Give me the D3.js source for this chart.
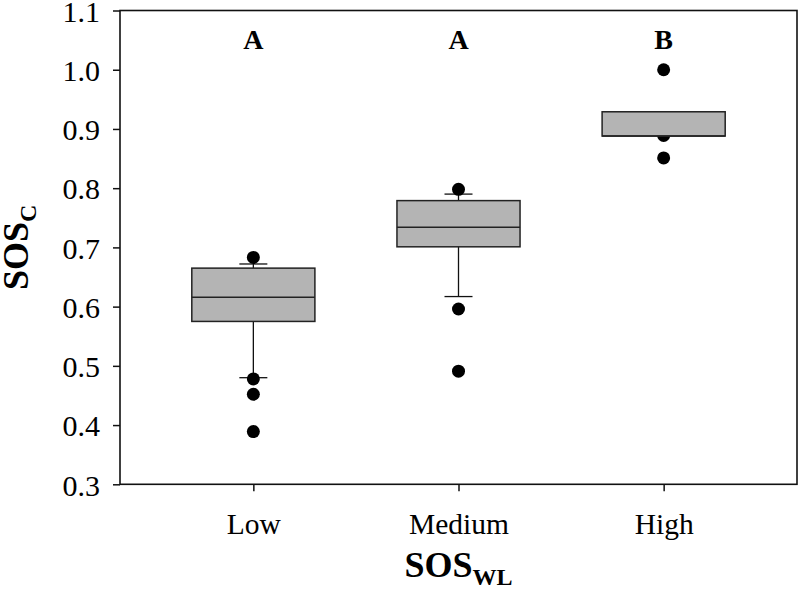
<!DOCTYPE html>
<html><head><meta charset="utf-8">
<script src="https://cdn.jsdelivr.net/npm/d3@7"></script>
<style>body{margin:0;background:#fff}svg{display:block}</style>
</head><body>
<svg id="c" width="800" height="590"></svg>
<script>
const categories = ["Low", "Medium", "High"];
const q1 = [0.575, 0.701, 0.888];
const medians = [0.616, 0.734, 0.888];
const q3 = [0.665, 0.779, 0.929];
const whiskerLow = [0.480, 0.617, null];
const whiskerHigh = [0.672, 0.790, null];
const outliers = [[0.683, 0.478, 0.452, 0.389], [0.798, 0.596, 0.491], [1.0, 0.889, 0.851]];
const letters = ["A", "A", "B"];
const yTicks = [0.3, 0.4, 0.5, 0.6, 0.7, 0.8, 0.9, 1.0, 1.1];

const svg = d3.select("#c");
const FONT = "'Liberation Serif', 'Times New Roman', serif";

const L = 120, R = 797, T = 10.5, B = 484.3;
const x = d3.scaleLinear().domain([0.35, 3.65]).range([L, R]);
const y = d3.scaleLinear().domain([0.3, 1.1]).range([B, T]);
const bw = x(1.3) - x(1);
const cw = 14;

const g = svg.append("g");
categories.forEach((c, i) => {
  const cx = x(i + 1);
  [[q3[i], whiskerHigh[i]], [q1[i], whiskerLow[i]]].forEach(([a, b]) => {
    if (b == null) return;
    g.append("line").attr("x1", cx).attr("x2", cx).attr("y1", y(a)).attr("y2", y(b)).attr("stroke", "#111").attr("stroke-width", 1.3);
    g.append("line").attr("x1", cx - cw).attr("x2", cx + cw).attr("y1", y(b)).attr("y2", y(b)).attr("stroke", "#111").attr("stroke-width", 1.3);
  });
});
categories.forEach((c, i) => {
  g.selectAll(null).data(outliers[i]).enter().append("circle")
    .attr("cx", x(i + 1)).attr("cy", d => y(d)).attr("r", 6.5).attr("fill", "#000");
});
categories.forEach((c, i) => {
  const cx = x(i + 1);
  g.append("rect").attr("x", cx - bw).attr("width", 2 * bw)
    .attr("y", y(q3[i])).attr("height", y(q1[i]) - y(q3[i]))
    .attr("fill", "#b4b4b4").attr("stroke", "#222").attr("stroke-width", 1.5);
  g.append("line").attr("x1", cx - bw).attr("x2", cx + bw).attr("y1", y(medians[i])).attr("y2", y(medians[i]))
    .attr("stroke", "#222").attr("stroke-width", 1.5);
  svg.append("text").attr("x", cx).attr("y", 49).attr("text-anchor", "middle").attr("font-family", FONT)
    .attr("font-size", 28).attr("font-weight", "bold").text(letters[i]);
});

svg.append("rect").attr("x", L).attr("y", T).attr("width", R - L).attr("height", B - T)
  .attr("fill", "none").attr("stroke", "#111").attr("stroke-width", 1.6);

const yAxis = d3.axisLeft(y).tickValues(yTicks).tickFormat(d3.format(".1f")).tickSize(7).tickPadding(13);
const ya = svg.append("g").attr("transform", `translate(${L},0)`).call(yAxis).attr("font-family", FONT);
ya.select(".domain").remove();
ya.selectAll("line").attr("stroke", "#111").attr("stroke-width", 1.5);
ya.selectAll("text").attr("font-size", 30).attr("fill", "#000").attr("dy", "0.36em");

const xAxis = d3.axisBottom(x).tickValues([1, 2, 3]).tickFormat(d => categories[d - 1]).tickSize(7).tickPadding(22);
const xa = svg.append("g").attr("transform", `translate(0,${B})`).call(xAxis).attr("font-family", FONT);
xa.select(".domain").remove();
xa.selectAll("line").attr("stroke", "#111").attr("stroke-width", 1.5);
xa.selectAll("text").attr("font-size", 29.5).attr("fill", "#000").attr("dy", "0.71em");

const xt = svg.append("text").attr("x", x(2)).attr("y", 577).attr("text-anchor", "middle").attr("font-family", FONT)
  .attr("font-size", 36).attr("font-weight", "bold");
xt.append("tspan").text("SOS");
xt.append("tspan").attr("font-size", 24).attr("dy", 8).text("WL");

const yt = svg.append("text").attr("transform", `translate(28,${(T + B) / 2}) rotate(-90)`).attr("text-anchor", "middle").attr("font-family", FONT)
  .attr("font-size", 36).attr("font-weight", "bold");
yt.append("tspan").text("SOS");
yt.append("tspan").attr("font-size", 24).attr("dy", 8).text("C");
</script>
</body></html>
